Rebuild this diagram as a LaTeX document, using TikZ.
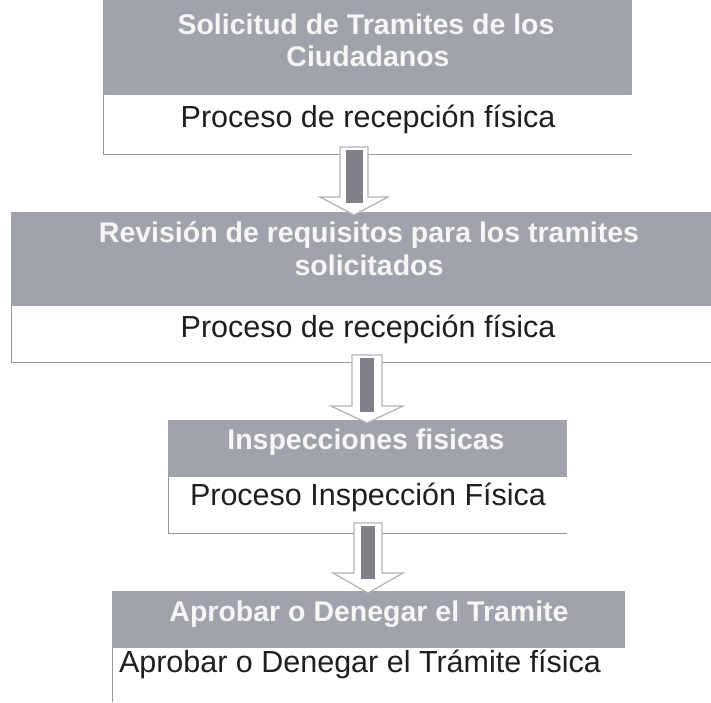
\documentclass[tikz,border=0pt]{standalone}
\usepackage{fontspec}
\setmainfont{Liberation Sans}
\usetikzlibrary{calc}
\definecolor{hdrfill}{RGB}{160,163,172}
\definecolor{hdrtext}{RGB}{246,246,246}
\definecolor{boxline}{RGB}{150,150,156}
\definecolor{shaftcol}{RGB}{128,128,136}
\definecolor{arrline}{RGB}{180,180,186}
\newcommand{\blockarr}[6]{%
  % #1 start coordinate, #2 tip coordinate, #3 outline half width,
  % #4 head half width, #5 head height, #6 inner shaft half width
  \path[arrbody] ($(#1)+(-#3,0)$) -- ($(#1)+(#3,0)$) -- ($(#2)+(#3,#5)$)
     -- ($(#2)+(#4,#5)$) -- (#2) -- ($(#2)+(-#4,#5)$) -- ($(#2)+(-#3,#5)$) -- cycle;
  \fill[shaftcol] ($(#1)+(-#6,-3)$) rectangle ($(#2)+(#6,#5-6)$);
}
\begin{document}
\begin{tikzpicture}[x=1pt,y=1pt,
  hdr/.style={fill=hdrfill, draw=none, inner sep=0pt, anchor=north west},
  wbox/.style={draw=none, fill=none, inner sep=0pt, anchor=north west},
  htxt/.style={text=hdrtext, font=\fontsize{28.5}{32}\selectfont\bfseries, anchor=base, inner sep=0pt},
  btxt/.style={text=black!88, font=\fontsize{30.5}{34}\selectfont, anchor=base, inner sep=0pt},
  edgeline/.style={draw=boxline, line width=0.9pt},
  arrbody/.style={fill=white, draw=arrline, line width=1.3pt, line join=miter}]
\useasboundingbox (0,0) rectangle (711,-702);
\fill[white] (0,0) rectangle (711,-702);

% Box 1
\node[hdr, minimum width=529pt, minimum height=95pt] (h1) at (103,0) {};
\node[wbox, minimum width=529pt, minimum height=59pt] (w1) at (103,-95) {};
\draw[edgeline] (w1.north west) -- (w1.south west) -- (w1.south east);
\node[htxt] (t1a) at (366,-34) {Solicitud de Tramites de los};
\node[htxt] (t1b) at (368,-66) {Ciudadanos};
\node[btxt] (p1) at (368,-127) {Proceso de recepción física};

% Box 2
\node[hdr, minimum width=700pt, minimum height=94pt] (h2) at (11,-212) {};
\node[wbox, minimum width=700pt, minimum height=56pt] (w2) at (11,-306) {};
\draw[edgeline] (w2.north west) -- (w2.south west) -- (w2.south east);
\node[htxt] (t2a) at (369,-242) {Revisión de requisitos para los tramites};
\node[htxt] (t2b) at (369,-275) {solicitados};
\node[btxt] (p2) at (368,-337) {Proceso de recepción física};

% Box 3
\node[hdr, minimum width=399pt, minimum height=57pt] (h3) at (168,-420) {};
\node[wbox, minimum width=399pt, minimum height=56pt] (w3) at (168,-477) {};
\draw[edgeline] (w3.north west) -- (w3.south west) -- (w3.south east);
\node[htxt] (t3) at (366,-449) {Inspecciones fisicas};
\node[btxt] (p3) at (368,-505) {Proceso Inspección Física};

% Box 4
\node[hdr, minimum width=513pt, minimum height=57pt] (h4) at (112,-591) {};
\node[wbox, minimum width=513pt, minimum height=54pt] (w4) at (112,-648) {};
\draw[edgeline] (w4.north west) -- (w4.south west);
\node[htxt] (t4) at (369,-621) {Aprobar o Denegar el Tramite};
\node[btxt] (p4) at (360,-672) {Aprobar o Denegar el Trámite física};

% Arrows
\coordinate (a1s) at (354,-147);
\coordinate (a1e) at (354,-215);
\coordinate (a2s) at (367,-355);
\coordinate (a2e) at (367,-423);
\coordinate (a3s) at (368,-523);
\coordinate (a3e) at (368,-593);
\blockarr{a1s}{a1e}{14}{34}{18}{8.5}
\blockarr{a2s}{a2e}{15}{36}{17}{7}
\blockarr{a3s}{a3e}{14}{35}{20}{7}
\end{tikzpicture}
\end{document}
